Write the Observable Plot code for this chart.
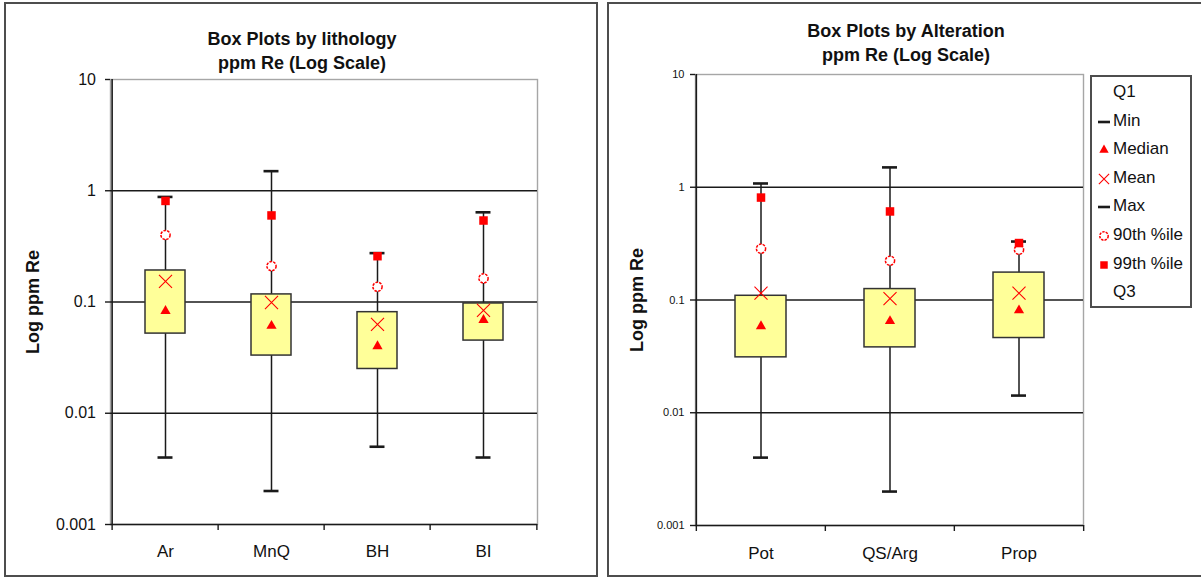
<!DOCTYPE html>
<html>
<head>
<meta charset="utf-8">
<script src="https://cdn.jsdelivr.net/npm/d3@7"></script>
<script src="https://cdn.jsdelivr.net/npm/@observablehq/plot@0.6"></script>
<style>
  body { margin: 0; background: #fff; font-family: "Liberation Sans", Arial, sans-serif; color: #111; }
  #page { position: relative; width: 1201px; height: 577px; overflow: hidden; }
  .panel { position: absolute; border: 2px solid #4d4d4d; box-sizing: border-box; pointer-events: none; }
  .chart { position: absolute; top: 0; }
  .title { position: absolute; width: 400px; text-align: center; font-weight: bold; font-size: 18px; }
  #legend { position: absolute; left: 1090px; top: 75px; width: 102px; height: 233px; box-sizing: border-box;
            border: 2px solid #4d4d4d; background: #fff; padding-top: 1px; }
  .item { position: relative; height: 28.6px; line-height: 28.6px; font-size: 17px; padding-left: 21px; white-space: nowrap; }
  .item svg { position: absolute; left: 4px; top: 7px; }
</style>
</head>
<body>
<div id="page">
  <div id="left" class="chart" style="left:0px"></div>
  <div id="right" class="chart" style="left:600px"></div>
  <div class="title" style="left:102px; top:27px; line-height:24px">Box Plots by lithology<br>ppm Re (Log Scale)</div>
  <div class="title" style="left:706px; top:20px; line-height:23.5px">Box Plots by Alteration<br>ppm Re (Log Scale)</div>
  <div class="panel" style="left:4px; top:2px; width:594px; height:575px"></div>
  <div class="panel" style="left:607px; top:2px; width:620px; height:575px"></div>
  <div id="legend"></div>
</div>
<script>
// Summary statistics of Re (ppm) by lithology
const lithCats   = ["Ar", "MnQ", "BH", "BI"];
const lithMin    = [0.004, 0.002, 0.005, 0.004];
const lithQ1     = [0.052, 0.033, 0.025, 0.045];
const lithMedian = [0.083, 0.061, 0.040, 0.069];
const lithMean   = [0.153, 0.099, 0.063, 0.084];
const lithQ3     = [0.192, 0.117, 0.081, 0.097];
const lithP90    = [0.40, 0.21, 0.137, 0.163];
const lithP99    = [0.81, 0.60, 0.258, 0.54];
const lithMax    = [0.88, 1.5, 0.275, 0.64];

// Summary statistics of Re (ppm) by alteration
const altCats   = ["Pot", "QS/Arg", "Prop"];
const altMin    = [0.004, 0.002, 0.0142];
const altQ1     = [0.031, 0.038, 0.046];
const altMedian = [0.0585, 0.065, 0.081];
const altMean   = [0.115, 0.103, 0.115];
const altQ3     = [0.109, 0.125, 0.175];
const altP90    = [0.285, 0.223, 0.279];
const altP99    = [0.81, 0.61, 0.32];
const altMax    = [1.08, 1.5, 0.33];

// Log axis ticks and labels
const yTicks      = [0.001, 0.01, 0.1, 1, 10];
const yTickLabels = ["0.001", "0.01", "0.1", "1", "10"];
const gridValues  = [0.01, 0.1, 1];
const yLabel      = "Log ppm Re";

// Legend entries
const legendLabels  = ["Q1", "Min", "Median", "Mean", "Max", "90th %ile", "99th %ile", "Q3"];
const legendSymbols = [null, "dash", "triangle", "times", "dash", "circle", "square", null];

const RED = "#ff0000";
const INK = "#1a1a1a";

function rowsOf(cats, min, q1, median, mean, q3, p90, p99, max) {
  return cats.map((cat, i) => ({
    cat, min: min[i], q1: q1[i], median: median[i], mean: mean[i],
    q3: q3[i], p90: p90[i], p99: p99[i], max: max[i]
  }));
}

function boxChart({cats, rows, width, height, ml, mr, mt, mb, pad, capW, tickFont, tickPad, catPad, labelX}) {
  const step = (width - ml - mr) / cats.length;
  const bw = step * (1 - pad);
  const capInset = (bw - capW) / 2;
  const last = cats[cats.length - 1];
  return Plot.plot({
    width, height,
    marginLeft: ml, marginRight: mr, marginTop: mt, marginBottom: mb,
    style: {fontFamily: '"Liberation Sans", Arial, sans-serif', color: "#111", background: "transparent", overflow: "visible"},
    x: {type: "band", domain: cats, paddingInner: pad, paddingOuter: pad / 2, align: 0.5},
    y: {type: "log", domain: [yTicks[0], yTicks[yTicks.length - 1]]},
    marks: [
      // plot area outline: light top/right, dark axes left/bottom
      Plot.frame({stroke: "#a6a6a6", strokeWidth: 1.4}),
      Plot.ruleY(gridValues, {stroke: INK, strokeWidth: 1.4}),
      Plot.ruleY([yTicks[0]], {stroke: INK, strokeWidth: 1.6}),
      Plot.ruleX([cats[0]], {dx: -step / 2, stroke: INK, strokeWidth: 1.6}),
      // category boundary ticks below the axis
      Plot.ruleX(cats, {x: d => d, y1: yTicks[0], y2: yTicks[0], insetBottom: -6, dx: -step / 2, stroke: INK, strokeWidth: 1.4}),
      Plot.ruleX([last], {x: d => d, y1: yTicks[0], y2: yTicks[0], insetBottom: -6, dx: step / 2, stroke: INK, strokeWidth: 1.4}),
      Plot.axisY({ticks: yTicks, tickFormat: d => yTickLabels[yTicks.indexOf(d)], tickSize: 5, tickPadding: tickPad,
                  fontSize: tickFont, stroke: INK, strokeWidth: 1.4, label: null}),
      Plot.axisX({tickSize: 0, tickPadding: catPad, fontSize: 17, label: null}),
      // whiskers, boxes, caps
      Plot.ruleX(rows, {x: "cat", y1: "min", y2: "max", stroke: INK, strokeWidth: 1.5}),
      Plot.barY(rows, {x: "cat", y1: "q1", y2: "q3", fill: "#ffff99", stroke: "#333", strokeWidth: 1.5}),
      Plot.tickY(rows, {x: "cat", y: "min", insetLeft: capInset, insetRight: capInset, stroke: INK, strokeWidth: 2.6}),
      Plot.tickY(rows, {x: "cat", y: "max", insetLeft: capInset, insetRight: capInset, stroke: INK, strokeWidth: 2.6}),
      // statistic markers
      Plot.dot(rows, {x: "cat", y: "median", symbol: "triangle", fill: RED, r: 3.8}),
      Plot.dot(rows, {x: "cat", y: "mean", symbol: "times", stroke: RED, strokeWidth: 1.1, r: 6}),
      Plot.dot(rows, {x: "cat", y: "p90", symbol: "circle", fill: "#fff", stroke: RED, strokeWidth: 1.5, strokeDasharray: "2.6 1.2", r: 4.6}),
      Plot.dot(rows, {x: "cat", y: "p99", symbol: "square", fill: RED, r: 4.8}),
      // y axis title
      Plot.text([yLabel], {text: d => d, frameAnchor: "left", textAnchor: "middle", dx: labelX - ml, rotate: -90,
                           fontWeight: "bold", fontSize: 18, fill: "#111"})
    ]
  });
}

document.getElementById("left").append(boxChart({
  cats: lithCats,
  rows: rowsOf(lithCats, lithMin, lithQ1, lithMedian, lithMean, lithQ3, lithP90, lithP99, lithMax),
  width: 600, height: 577, ml: 110, mr: 63, mt: 79, mb: 53,
  pad: 0.625, capW: 15, tickFont: 16, tickPad: 9.5, catPad: 20, labelX: 33
}));

document.getElementById("right").append(boxChart({
  cats: altCats,
  rows: rowsOf(altCats, altMin, altQ1, altMedian, altMean, altQ3, altP90, altP99, altMax),
  width: 601, height: 577, ml: 95, mr: 118, mt: 74, mb: 52,
  pad: 0.606, capW: 15, tickFont: 11, tickPad: 6, catPad: 21, labelX: 36.5
}));

// Legend for the alteration chart
const legend = d3.select("#legend");
legendLabels.forEach((label, i) => {
  const item = legend.append("div").attr("class", "item");
  const kind = legendSymbols[i];
  const svg = item.append("svg").attr("width", 16).attr("height", 16);
  const g = svg.append("g").attr("transform", "translate(8,8)");
  if (kind === "dash") {
    g.append("line").attr("x1", -6).attr("x2", 6).attr("stroke", INK).attr("stroke-width", 2.6);
  } else if (kind === "triangle") {
    g.append("path").attr("d", d3.symbol(d3.symbolTriangle, 38)()).attr("fill", RED);
  } else if (kind === "times") {
    g.append("path").attr("d", d3.symbol(d3.symbolTimes, 70)()).attr("stroke", RED).attr("stroke-width", 1.1).attr("fill", "none");
  } else if (kind === "circle") {
    g.append("circle").attr("r", 4.2).attr("fill", "#fff").attr("stroke", RED).attr("stroke-width", 1.5).attr("stroke-dasharray", "2.4 1.1");
  } else if (kind === "square") {
    g.append("path").attr("d", d3.symbol(d3.symbolSquare, 56)()).attr("fill", RED);
  }
  item.append("span").text(label);
});
</script>
</body>
</html>
